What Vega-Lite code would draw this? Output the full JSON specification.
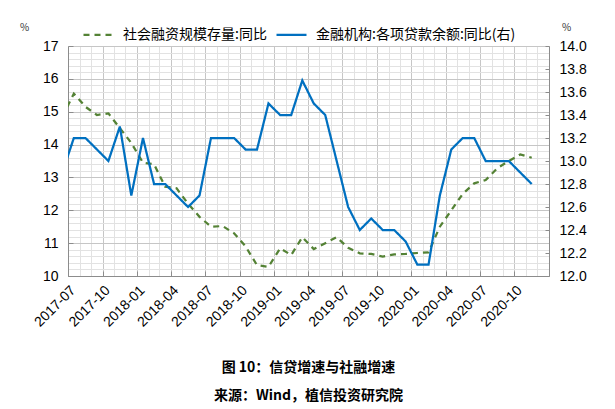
{
  "$schema": "https://vega.github.io/schema/vega-lite/v6.json",
  "width": 481,
  "height": 230,
  "autosize": {"type": "none"},
  "padding": {"left": 68, "top": 46, "right": 66, "bottom": 133},
  "background": "white",
  "config": {
    "view": {"stroke": null},
    "axis": {"domainColor": "#8c8c8c", "labelFont": "Liberation Sans", "labelFontSize": 14, "labelColor": "#000000", "tickColor": "#8c8c8c"},
    "legend": {"labelFont": "Noto Sans CJK SC", "labelFontSize": 14, "labelColor": "#000000", "labelLimit": 0}
  },
  "title": {
    "text": ["图 10：信贷增速与社融增速", "来源：Wind，植信投资研究院"],
    "orient": "bottom",
    "anchor": "middle",
    "frame": "group",
    "font": "Noto Sans CJK SC",
    "fontSize": 14,
    "fontWeight": "bold",
    "lineHeight": 28,
    "offset": 32,
    "color": "#000000"
  },
  "data": {
    "values": [
      {"month": "2017-06-01", "series": "社会融资规模存量:同比", "value": 14.85},
      {"month": "2017-07-01", "series": "社会融资规模存量:同比", "value": 15.55},
      {"month": "2017-08-01", "series": "社会融资规模存量:同比", "value": 15.15},
      {"month": "2017-09-01", "series": "社会融资规模存量:同比", "value": 14.9},
      {"month": "2017-10-01", "series": "社会融资规模存量:同比", "value": 14.95},
      {"month": "2017-11-01", "series": "社会融资规模存量:同比", "value": 14.5},
      {"month": "2017-12-01", "series": "社会融资规模存量:同比", "value": 14.05},
      {"month": "2018-01-01", "series": "社会融资规模存量:同比", "value": 13.45},
      {"month": "2018-02-01", "series": "社会融资规模存量:同比", "value": 13.4},
      {"month": "2018-03-01", "series": "社会融资规模存量:同比", "value": 12.72},
      {"month": "2018-04-01", "series": "社会融资规模存量:同比", "value": 12.67},
      {"month": "2018-05-01", "series": "社会融资规模存量:同比", "value": 12.2},
      {"month": "2018-06-01", "series": "社会融资规模存量:同比", "value": 11.8},
      {"month": "2018-07-01", "series": "社会融资规模存量:同比", "value": 11.5},
      {"month": "2018-08-01", "series": "社会融资规模存量:同比", "value": 11.52},
      {"month": "2018-09-01", "series": "社会融资规模存量:同比", "value": 11.3},
      {"month": "2018-10-01", "series": "社会融资规模存量:同比", "value": 10.9},
      {"month": "2018-11-01", "series": "社会融资规模存量:同比", "value": 10.33},
      {"month": "2018-12-01", "series": "社会融资规模存量:同比", "value": 10.28},
      {"month": "2019-01-01", "series": "社会融资规模存量:同比", "value": 10.84},
      {"month": "2019-02-01", "series": "社会融资规模存量:同比", "value": 10.64},
      {"month": "2019-03-01", "series": "社会融资规模存量:同比", "value": 11.18},
      {"month": "2019-04-01", "series": "社会融资规模存量:同比", "value": 10.82},
      {"month": "2019-05-01", "series": "社会融资规模存量:同比", "value": 11.0},
      {"month": "2019-06-01", "series": "社会融资规模存量:同比", "value": 11.18},
      {"month": "2019-07-01", "series": "社会融资规模存量:同比", "value": 10.86},
      {"month": "2019-08-01", "series": "社会融资规模存量:同比", "value": 10.69},
      {"month": "2019-09-01", "series": "社会融资规模存量:同比", "value": 10.67},
      {"month": "2019-10-01", "series": "社会融资规模存量:同比", "value": 10.59},
      {"month": "2019-11-01", "series": "社会融资规模存量:同比", "value": 10.66},
      {"month": "2019-12-01", "series": "社会融资规模存量:同比", "value": 10.67},
      {"month": "2020-01-01", "series": "社会融资规模存量:同比", "value": 10.7},
      {"month": "2020-02-01", "series": "社会融资规模存量:同比", "value": 10.72},
      {"month": "2020-03-01", "series": "社会融资规模存量:同比", "value": 11.5},
      {"month": "2020-04-01", "series": "社会融资规模存量:同比", "value": 12.0},
      {"month": "2020-05-01", "series": "社会融资规模存量:同比", "value": 12.5},
      {"month": "2020-06-01", "series": "社会融资规模存量:同比", "value": 12.82},
      {"month": "2020-07-01", "series": "社会融资规模存量:同比", "value": 12.92},
      {"month": "2020-08-01", "series": "社会融资规模存量:同比", "value": 13.28},
      {"month": "2020-09-01", "series": "社会融资规模存量:同比", "value": 13.5},
      {"month": "2020-10-01", "series": "社会融资规模存量:同比", "value": 13.7},
      {"month": "2020-11-01", "series": "社会融资规模存量:同比", "value": 13.6},
      {"month": "2017-06-01", "series": "金融机构:各项贷款余额:同比(右)", "value": 12.9},
      {"month": "2017-07-01", "series": "金融机构:各项贷款余额:同比(右)", "value": 13.2},
      {"month": "2017-08-01", "series": "金融机构:各项贷款余额:同比(右)", "value": 13.2},
      {"month": "2017-09-01", "series": "金融机构:各项贷款余额:同比(右)", "value": 13.1},
      {"month": "2017-10-01", "series": "金融机构:各项贷款余额:同比(右)", "value": 13.0},
      {"month": "2017-11-01", "series": "金融机构:各项贷款余额:同比(右)", "value": 13.3},
      {"month": "2017-12-01", "series": "金融机构:各项贷款余额:同比(右)", "value": 12.7},
      {"month": "2018-01-01", "series": "金融机构:各项贷款余额:同比(右)", "value": 13.2},
      {"month": "2018-02-01", "series": "金融机构:各项贷款余额:同比(右)", "value": 12.8},
      {"month": "2018-03-01", "series": "金融机构:各项贷款余额:同比(右)", "value": 12.8},
      {"month": "2018-04-01", "series": "金融机构:各项贷款余额:同比(右)", "value": 12.7},
      {"month": "2018-05-01", "series": "金融机构:各项贷款余额:同比(右)", "value": 12.6},
      {"month": "2018-06-01", "series": "金融机构:各项贷款余额:同比(右)", "value": 12.7},
      {"month": "2018-07-01", "series": "金融机构:各项贷款余额:同比(右)", "value": 13.2},
      {"month": "2018-08-01", "series": "金融机构:各项贷款余额:同比(右)", "value": 13.2},
      {"month": "2018-09-01", "series": "金融机构:各项贷款余额:同比(右)", "value": 13.2},
      {"month": "2018-10-01", "series": "金融机构:各项贷款余额:同比(右)", "value": 13.1},
      {"month": "2018-11-01", "series": "金融机构:各项贷款余额:同比(右)", "value": 13.1},
      {"month": "2018-12-01", "series": "金融机构:各项贷款余额:同比(右)", "value": 13.5},
      {"month": "2019-01-01", "series": "金融机构:各项贷款余额:同比(右)", "value": 13.4},
      {"month": "2019-02-01", "series": "金融机构:各项贷款余额:同比(右)", "value": 13.4},
      {"month": "2019-03-01", "series": "金融机构:各项贷款余额:同比(右)", "value": 13.7},
      {"month": "2019-04-01", "series": "金融机构:各项贷款余额:同比(右)", "value": 13.5},
      {"month": "2019-05-01", "series": "金融机构:各项贷款余额:同比(右)", "value": 13.4},
      {"month": "2019-06-01", "series": "金融机构:各项贷款余额:同比(右)", "value": 13.0},
      {"month": "2019-07-01", "series": "金融机构:各项贷款余额:同比(右)", "value": 12.6},
      {"month": "2019-08-01", "series": "金融机构:各项贷款余额:同比(右)", "value": 12.4},
      {"month": "2019-09-01", "series": "金融机构:各项贷款余额:同比(右)", "value": 12.5},
      {"month": "2019-10-01", "series": "金融机构:各项贷款余额:同比(右)", "value": 12.4},
      {"month": "2019-11-01", "series": "金融机构:各项贷款余额:同比(右)", "value": 12.4},
      {"month": "2019-12-01", "series": "金融机构:各项贷款余额:同比(右)", "value": 12.3},
      {"month": "2020-01-01", "series": "金融机构:各项贷款余额:同比(右)", "value": 12.1},
      {"month": "2020-02-01", "series": "金融机构:各项贷款余额:同比(右)", "value": 12.1},
      {"month": "2020-03-01", "series": "金融机构:各项贷款余额:同比(右)", "value": 12.7},
      {"month": "2020-04-01", "series": "金融机构:各项贷款余额:同比(右)", "value": 13.1},
      {"month": "2020-05-01", "series": "金融机构:各项贷款余额:同比(右)", "value": 13.2},
      {"month": "2020-06-01", "series": "金融机构:各项贷款余额:同比(右)", "value": 13.2},
      {"month": "2020-07-01", "series": "金融机构:各项贷款余额:同比(右)", "value": 13.0},
      {"month": "2020-08-01", "series": "金融机构:各项贷款余额:同比(右)", "value": 13.0},
      {"month": "2020-09-01", "series": "金融机构:各项贷款余额:同比(右)", "value": 13.0},
      {"month": "2020-10-01", "series": "金融机构:各项贷款余额:同比(右)", "value": 12.9},
      {"month": "2020-11-01", "series": "金融机构:各项贷款余额:同比(右)", "value": 12.8}
    ]
  },
  "layer": [
    {
      "transform": [{"filter": {"field": "series", "equal": "社会融资规模存量:同比"}}],
      "mark": {"type": "line", "opacity": 0, "clip": true},
      "encoding": {
        "x": {
          "field": "month", "type": "temporal", "timeUnit": "utcyearmonth", "bandPosition": 0.5,
          "scale": {"type": "utc", "domain": [{"year": 2017, "month": 7, "date": 1, "utc": true}, {"year": 2021, "month": 1, "date": 1, "utc": true}]},
          "axis": {
            "values": [
              {"year": 2017, "month": 8, "date": 1, "utc": true},
              {"year": 2017, "month": 9, "date": 1, "utc": true},
              {"year": 2017, "month": 11, "date": 1, "utc": true},
              {"year": 2017, "month": 12, "date": 1, "utc": true},
              {"year": 2018, "month": 2, "date": 1, "utc": true},
              {"year": 2018, "month": 3, "date": 1, "utc": true},
              {"year": 2018, "month": 5, "date": 1, "utc": true},
              {"year": 2018, "month": 6, "date": 1, "utc": true},
              {"year": 2018, "month": 8, "date": 1, "utc": true},
              {"year": 2018, "month": 9, "date": 1, "utc": true},
              {"year": 2018, "month": 11, "date": 1, "utc": true},
              {"year": 2018, "month": 12, "date": 1, "utc": true},
              {"year": 2019, "month": 2, "date": 1, "utc": true},
              {"year": 2019, "month": 3, "date": 1, "utc": true},
              {"year": 2019, "month": 5, "date": 1, "utc": true},
              {"year": 2019, "month": 6, "date": 1, "utc": true},
              {"year": 2019, "month": 8, "date": 1, "utc": true},
              {"year": 2019, "month": 9, "date": 1, "utc": true},
              {"year": 2019, "month": 11, "date": 1, "utc": true},
              {"year": 2019, "month": 12, "date": 1, "utc": true},
              {"year": 2020, "month": 2, "date": 1, "utc": true},
              {"year": 2020, "month": 3, "date": 1, "utc": true},
              {"year": 2020, "month": 5, "date": 1, "utc": true},
              {"year": 2020, "month": 6, "date": 1, "utc": true},
              {"year": 2020, "month": 8, "date": 1, "utc": true},
              {"year": 2020, "month": 9, "date": 1, "utc": true},
              {"year": 2020, "month": 11, "date": 1, "utc": true},
              {"year": 2020, "month": 12, "date": 1, "utc": true}
            ],
            "grid": true, "gridColor": "#e2e2e2", "gridWidth": 1, "labels": false, "domain": false, "ticks": false, "title": null, "orient": "bottom"
          }
        },
        "y": {
          "field": "value", "type": "quantitative",
          "scale": {"domain": [10, 17], "nice": false, "zero": false},
          "axis": {"values": [10.2,10.4,10.6,10.8,11.2,11.4,11.6,11.8,12.2,12.4,12.6,12.8,13.2,13.4,13.6,13.8,14.2,14.4,14.6,14.8,15.2,15.4,15.6,15.8,16.2,16.4,16.6,16.8], "grid": true, "gridColor": "#e2e2e2", "labels": false, "ticks": false, "domain": false, "title": null, "orient": "left"}
        }
      }
    },
    {
      "transform": [{"filter": {"field": "series", "equal": "社会融资规模存量:同比"}}],
      "mark": {"type": "line", "strokeWidth": 2.25, "clip": true},
      "encoding": {
        "x": {
          "field": "month", "type": "temporal", "timeUnit": "utcyearmonth", "bandPosition": 0.5,
          "scale": {"type": "utc", "domain": [{"year": 2017, "month": 7, "date": 1, "utc": true}, {"year": 2021, "month": 1, "date": 1, "utc": true}]},
          "axis": {
            "values": [
              {"year": 2017, "month": 7, "date": 1, "utc": true},
              {"year": 2017, "month": 10, "date": 1, "utc": true},
              {"year": 2018, "month": 1, "date": 1, "utc": true},
              {"year": 2018, "month": 4, "date": 1, "utc": true},
              {"year": 2018, "month": 7, "date": 1, "utc": true},
              {"year": 2018, "month": 10, "date": 1, "utc": true},
              {"year": 2019, "month": 1, "date": 1, "utc": true},
              {"year": 2019, "month": 4, "date": 1, "utc": true},
              {"year": 2019, "month": 7, "date": 1, "utc": true},
              {"year": 2019, "month": 10, "date": 1, "utc": true},
              {"year": 2020, "month": 1, "date": 1, "utc": true},
              {"year": 2020, "month": 4, "date": 1, "utc": true},
              {"year": 2020, "month": 7, "date": 1, "utc": true},
              {"year": 2020, "month": 10, "date": 1, "utc": true}
            ],
            "format": "%Y-%m", "labelAngle": -45, "labelOverlap": false, "labelBound": false, "labelFlush": false,
            "grid": true, "gridColor": "#c6c6c6", "tickSize": -5, "labelPadding": 12, "title": null, "orient": "bottom"
          }
        },
        "y": {
          "field": "value", "type": "quantitative",
          "scale": {"domain": [10, 17], "nice": false, "zero": false},
          "axis": {"values": [10, 11, 12, 13, 14, 15, 16, 17], "grid": true, "gridColor": "#c6c6c6", "tickSize": -5, "labelPadding": 15, "labelFlush": false, "orient": "left", "title": "%", "titleAngle": 0, "titleX": -44, "titleY": -19, "titleAlign": "center", "titleBaseline": "middle", "titleFont": "Noto Sans CJK SC", "titleFontSize": 10, "titleFontWeight": "normal", "titleColor": "#333333"}
        },
        "color": {
          "field": "series", "type": "nominal",
          "scale": {"domain": ["社会融资规模存量:同比", "金融机构:各项贷款余额:同比(右)"], "range": ["#548235", "#0070C0"]},
          "legend": {"orient": "none", "legendX": 14, "legendY": -28, "direction": "horizontal", "title": null, "symbolType": "stroke", "symbolSize": 900, "symbolStrokeWidth": 2.25, "labelOffset": 8, "columnPadding": 5, "labelLimit": 0}
        },
        "strokeDash": {
          "field": "series", "type": "nominal",
          "scale": {"domain": ["社会融资规模存量:同比", "金融机构:各项贷款余额:同比(右)"], "range": [[6, 5], [1, 0]]},
          "legend": {"orient": "none", "legendX": 14, "legendY": -28, "direction": "horizontal", "title": null, "symbolType": "stroke", "symbolSize": 900, "symbolStrokeWidth": 2.25, "labelOffset": 8, "columnPadding": 5, "labelLimit": 0}
        }
      }
    },
    {
      "transform": [{"filter": {"field": "series", "equal": "金融机构:各项贷款余额:同比(右)"}}],
      "mark": {"type": "line", "strokeWidth": 2.25, "clip": true},
      "encoding": {
        "x": {
          "field": "month", "type": "temporal", "timeUnit": "utcyearmonth", "bandPosition": 0.5,
          "scale": {"type": "utc", "domain": [{"year": 2017, "month": 7, "date": 1, "utc": true}, {"year": 2021, "month": 1, "date": 1, "utc": true}]},
          "axis": null
        },
        "y": {
          "field": "value", "type": "quantitative",
          "scale": {"domain": [12, 14], "nice": false, "zero": false},
          "axis": {"values": [12, 12.2, 12.4, 12.6, 12.8, 13, 13.2, 13.4, 13.6, 13.8, 14], "format": ".1f", "grid": false, "labelFlush": false, "orient": "right", "tickSize": -4, "labelPadding": 14, "title": "%", "titleAngle": 0, "titleX": 17, "titleY": -19, "titleAlign": "center", "titleBaseline": "middle", "titleFont": "Noto Sans CJK SC", "titleFontSize": 10, "titleFontWeight": "normal", "titleColor": "#333333"}
        },
        "color": {
          "field": "series", "type": "nominal",
          "scale": {"domain": ["社会融资规模存量:同比", "金融机构:各项贷款余额:同比(右)"], "range": ["#548235", "#0070C0"]}
        },
        "strokeDash": {
          "field": "series", "type": "nominal",
          "scale": {"domain": ["社会融资规模存量:同比", "金融机构:各项贷款余额:同比(右)"], "range": [[6, 5], [1, 0]]}
        }
      }
    }
  ],
  "resolve": {"scale": {"x": "independent", "y": "independent", "color": "shared", "strokeDash": "shared"}}
}
